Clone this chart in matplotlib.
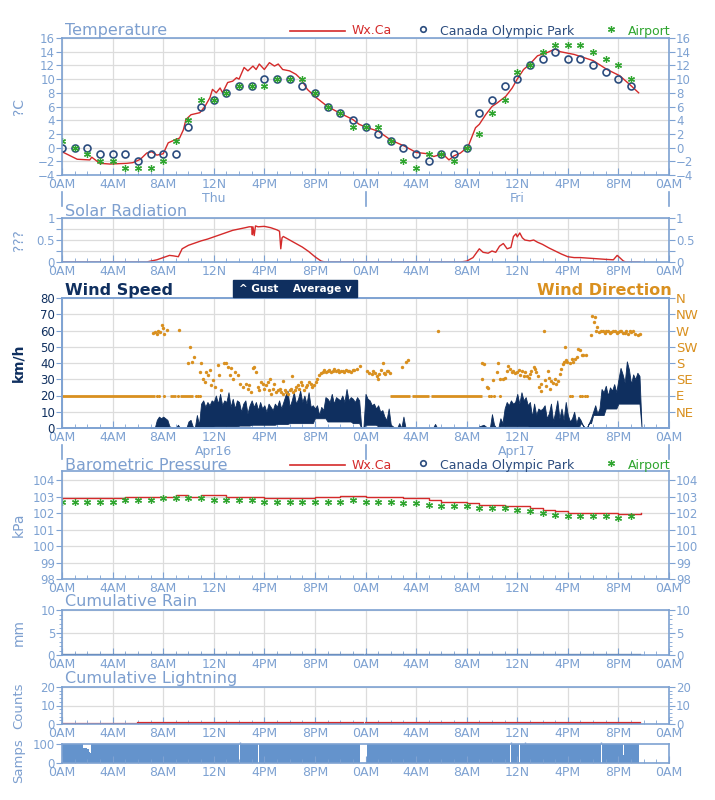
import numpy as np
import matplotlib.pyplot as plt
from matplotlib.patches import Rectangle
from matplotlib.lines import Line2D

W, H = 715, 800

AXC = '#7ea2d2'
TXT = '#7d9fcf'
GRID = '#dcdcdc'
RED = '#d42a2a'
NAVY = '#0f2f5f'
COP = '#2b4c7e'
ORANGE = '#d9901f'
GREEN = '#2fa52f'
SAMP = '#6493cc'

hour_ticks = [0, 4, 8, 12, 16, 20, 24, 28, 32, 36, 40, 44, 48]
hour_labels = ['0AM', '4AM', '8AM', '12N', '4PM', '8PM'] * 2 + ['0AM']

# ---- temperature ----
temp_wx_t = [0, 1.2, 2.2, 2.35, 3, 3.8, 5.1, 5.6, 6.2, 6.7, 7.1, 7.5, 8, 8.4, 8.9, 9.3, 9.6, 9.8,
             10.2, 10.9, 11.3, 11.7, 11.9, 12.2, 12.5, 12.7, 13.1, 13.5, 13.8, 14.0, 14.4, 14.7,
             15.1, 15.35, 15.6, 16, 16.4, 16.8, 17.1, 17.45, 18, 18.5, 18.9, 19.4, 20.1, 21, 21.9,
             23, 23.5, 24, 25, 26, 27.1, 28, 28.9, 29.4, 30.1, 30.6, 31, 31.5, 32.1, 32.7, 33,
             33.5, 34, 34.4, 35.1, 35.6, 36, 36.5, 37, 37.6, 38.4, 39, 39.4, 40.5, 41.5, 42, 43.1,
             44.1, 44.9, 45.6]
temp_wx = [-0.6, -1.7, -1.8, -1.4, -2.3, -2.4, -2.3, -2.2, -1.7, -0.8, -0.6, -1.1, -0.9, 0.7, 1.1,
           1.4, 2.6, 4.1, 4.8, 5.1, 6.0, 7.3, 8.5, 8.0, 8.7, 8.0, 9.5, 9.7, 10.2, 10.0, 11.7, 11.2,
           11.9, 11.4, 12.2, 11.4, 12.4, 11.9, 12.2, 11.4, 11.2, 10.7, 10.0, 8.5, 7.3, 6.0, 5.1,
           4.1, 3.4, 3.0, 2.4, 1.1, 0.2, -0.7, -0.9, -1.3, -0.9, -1.8, -1.2, -0.8, 0.1, 2.9, 3.4,
           4.8, 6.0, 6.5, 7.5, 8.7, 10.0, 11.4, 12.2, 13.4, 13.9, 14.4, 14.0, 13.6, 13.0, 12.7, 11.4,
           10.5, 9.2, 8.0]
temp_hours = list(range(46))
temp_cop = [0, 0, 0, -1, -1, -1, -2, -1, -1, -1, 3, 6, 7, 8, 9, 9, 10, 10, 10, 9, 8, 6, 5, 4,
            3, 2, 1, 0, -1, -2, -1, -1, 0, 5, 7, 9, 10, 12, 13, 14, 13, 13, 12, 11, 10, 9]
temp_air = [1, 0, -1, -2, -2, -3, -3, -3, -2, 1, 4, 7, 7, 8, 9, 9, 9, 10, 10, 10, 8, 6, 5, 3,
            3, 3, 1, -2, -3, -1, -1, -2, 0, 2, 5, 7, 11, 12, 14, 15, 15, 15, 14, 13, 12, 10]

# ---- solar radiation ----
solar_t = [0, 6.7, 7.0, 7.5, 8.0, 8.5, 8.8, 9.2, 9.5, 10.0, 10.5, 11.0, 11.5, 12.0, 12.5, 13.0,
           13.5, 14.0, 14.5, 14.8, 15.0, 15.05, 15.1, 15.2, 15.3, 15.5, 16.0, 16.5, 17.0, 17.2,
           17.3, 17.4, 17.5, 18.0, 18.5, 19.0, 19.5, 20.0, 20.5, 20.8, 31.5, 32.0, 32.5, 33.0,
           33.3, 33.7, 34.0, 34.3, 34.6, 34.9, 35.2, 35.5, 35.7, 35.9, 36.0, 36.2, 36.4, 36.6,
           37.0, 37.3, 37.6, 38.0, 38.5, 39.0, 39.5, 40.0, 40.5, 41.0, 42.0, 43.0, 43.6, 43.9,
           44.1, 44.4, 44.6, 45.7]
solar = [0, 0, 0.02, 0.05, 0.1, 0.15, 0.14, 0.12, 0.3, 0.38, 0.43, 0.48, 0.52, 0.57, 0.62, 0.67,
         0.72, 0.75, 0.78, 0.8, 0.8, 0.62, 0.8, 0.6, 0.82, 0.8, 0.81, 0.78, 0.73, 0.7,
         0.3, 0.55, 0.58, 0.5, 0.42, 0.34, 0.24, 0.12, 0.02, 0, 0, 0.02, 0.1, 0.3,
         0.22, 0.2, 0.25, 0.22, 0.36, 0.42, 0.3, 0.33, 0.58, 0.64, 0.57, 0.66, 0.55, 0.5,
         0.48, 0.5, 0.45, 0.4, 0.32, 0.25, 0.18, 0.12, 0.1, 0.1, 0.08, 0.06, 0.05, 0.15,
         0.1, 0.02, 0, 0]

# ---- wind speed: gusts every 10 min from 7:00, hourly averages ----
gust = [
    0, 0, 0, 5, 7, 6,          # 7h
    7, 6, 5, 1, 0.5, 0,        # 8h
    0, 2, 0, 0, 0, 0,          # 9h
    4, 5, 1, 0, 8, 2,          # 10h
    15, 17, 13, 16, 14, 17,    # 11h
    16, 20, 15, 21, 14, 17,    # 12h
    16, 22, 13, 18, 12, 17,    # 13h
    16, 10, 15, 17, 9, 14,     # 14h
    17, 13, 16, 11, 16, 12,    # 15h
    14, 10, 15, 13, 11, 15,    # 16h
    13, 17, 12, 16, 20, 23,    # 17h
    13, 17, 22, 15, 18, 23,    # 18h
    16, 20, 15, 22, 13, 14,    # 19h
    12, 14, 8, 13, 11, 19,     # 20h
    18, 16, 21, 15, 19, 18,    # 21h
    17, 20, 16, 24, 17, 19,    # 22h
    18, 16, 19, 17, 0, 0,      # 23h
    21, 18, 17, 14, 15, 12,    # 24h
    14, 10, 11, 7, 5, 12,      # 25h
    2, 1, 0, 0, 3, 0,          # 26h
    7, 0, 0, 0, 0, 0,          # 27h
    0, 0, 0, 0, 0, 0,          # 28h
    0, 0, 0, 2.5, 0, 0,        # 29h
    0, 0, 0, 0, 0, 0,          # 30h
    0, 0, 0, 0, 0, 0,          # 31h
    0, 0, 0, 0, 0, 0,          # 32h
    1, 1.5, 2, 1, 0, 0,        # 33h
    8.5, 2, 0, 0, 6, 3,        # 34h
    12, 16, 14, 17, 15, 16,    # 35h
    21, 15, 22, 17, 19, 14,    # 36h
    16, 7, 15, 8, 12, 11,      # 37h
    12, 14, 6, 9, 15, 4,       # 38h
    10, 17, 6, 12, 5, 16,      # 39h
    8, 4, 6, 10, 3, 7,         # 40h
    5, 2, 0, 0, 3, 6,          # 41h
    10, 14, 9, 12, 24, 22,     # 42h
    26, 20, 25, 23, 27, 22,    # 43h
    30, 37, 33, 28, 41, 36,    # 44h
    27, 33, 30, 34, 32, 0,     # 45h
]
avg_hr = [0, 0, 0, 0, 0.5, 1, 1, 1.5, 2, 2, 2.5, 3, 3, 6, 4, 4, 3, 2, 1,
          0, 0, 0, 0, 0, 0, 0, 0, 1, 1, 1, 0.5, 0.5, 0.5, 0, 3, 8, 12, 15, 15]

# ---- wind direction (degrees) ----
dir_t = [7.2, 7.35, 7.5, 7.6, 7.75, 7.9, 8.0, 8.1, 8.3, 9.25,
         10.1, 10.4, 10.3, 10.0, 10.9, 11.0, 11.15, 11.3, 11.4, 11.55, 11.7, 11.8, 11.95, 12.1,
         12.3, 12.45, 12.6, 12.85, 13.0, 13.1, 13.25, 13.4, 13.5, 13.65, 13.9, 14.05, 14.3,
         14.55, 14.7, 14.8, 14.95, 15.1, 15.2, 15.35, 15.5, 15.6, 15.75, 15.9, 16.0, 16.15,
         16.3, 16.4, 16.45, 16.55, 16.7, 16.8, 16.95, 17.05, 17.2, 17.3, 17.45, 17.5, 17.6,
         17.7, 17.85, 18.0, 18.1, 18.2, 18.25, 18.4, 18.5, 18.65, 18.75, 18.9, 19.0, 19.15,
         19.3, 19.4, 19.55, 19.7, 19.8, 19.95, 20.1, 20.2, 20.35, 20.5, 20.6, 20.7, 20.85,
         21.0, 21.1, 21.25, 21.4, 21.5, 21.65, 21.8, 21.9, 22.05, 22.2, 22.3, 22.45, 22.6,
         22.7, 22.85, 23.0, 23.1, 23.3, 23.55,
         24.1, 24.3, 24.5, 24.6, 24.75, 24.9, 25.0, 25.1, 25.2, 25.35, 25.45, 25.55, 25.7,
         25.8, 25.9, 26.85, 27.2, 27.4, 29.7,
         33.2, 33.25, 33.4, 33.6, 33.65, 34.1, 34.4, 34.5, 34.6, 34.9, 35.0, 35.15, 35.3,
         35.4, 35.55, 35.7, 35.8, 35.95, 36.1, 36.2, 36.35, 36.5, 36.6, 36.75, 36.9, 37.0,
         37.1, 37.3, 37.4, 37.5, 37.65, 37.7, 37.85, 37.9, 38.1, 38.2, 38.3, 38.4, 38.5,
         38.6, 38.7, 38.85, 38.95, 39.1, 39.25, 39.4, 39.45, 39.6, 39.7, 39.75, 39.85, 39.95,
         40.15, 40.3, 40.4, 40.55, 40.7, 40.8, 40.95, 41.1, 41.2, 41.4, 41.85, 41.95, 42.05,
         42.15, 42.2, 42.3, 42.5, 42.65, 42.8, 42.9, 43.05, 43.2, 43.35, 43.45, 43.6, 43.7,
         43.85, 43.95, 44.1, 44.2, 44.35, 44.5, 44.6, 44.75, 44.9, 45.0, 45.15, 45.35, 45.55,
         45.7]
dir_deg = [263, 267, 260, 269, 266, 286, 276, 260, 272, 272,
           225, 198, 184, 179, 156, 179, 137, 128, 156, 147, 161, 119, 133, 114,
           175, 147, 105, 179, 179, 170, 147, 165, 137, 156, 147, 123, 114,
           123, 109, 119, 100, 165, 170, 156, 114, 105, 128, 123, 109, 119,
           128, 105, 135, 95, 109, 123, 100, 105, 109, 100, 95, 130, 105,
           100, 95, 105, 109, 144, 100, 105, 114, 119, 109, 128, 119, 105,
           114, 119, 128, 123, 114, 119, 128, 137, 147, 151, 156, 161, 156,
           158, 161, 156, 158, 163, 159, 161, 156, 159, 158, 156, 160, 158,
           159, 156, 160, 162, 164, 173,
           158, 153, 149, 158, 153, 144, 135, 149, 162, 180, 153, 149, 158,
           158, 153, 168, 182, 189, 270,
           135, 180, 176, 114, 110, 133, 154, 180, 136, 136, 139, 159, 173,
           164, 154, 159, 152, 154, 161, 148, 159, 145, 154, 145, 139, 150,
           159, 168, 164, 154, 145, 113, 103, 122, 270, 133, 117, 159, 139,
           108, 131, 126, 136, 122, 129, 150, 164, 178, 182, 224, 187, 182,
           180, 192, 182, 192, 196, 220, 215, 203, 203, 203, 257, 310, 294,
           308, 270, 280, 266, 270, 268, 264, 270, 268, 263, 266, 270, 268,
           264, 266, 270, 268, 262, 264, 269, 261, 268, 266, 270, 261, 257,
           259]
east_segments = [(0.0, 7.35), (8.55, 9.05), (9.3, 10.35), (25.9, 27.5), (27.65, 29.0), (29.15, 33.2)]
east_dots = [7.55, 7.7, 8.1, 9.15, 10.6, 10.75, 10.95, 33.8, 33.95, 34.2, 34.65,
             40.2, 40.35, 40.95, 41.15, 41.35, 41.55]
compass = ['NE', 'E', 'SE', 'S', 'SW', 'W', 'NW', 'N']

# ---- pressure ----
pres_wx_t = list(range(46)) + [45.75]
pres_wx = [102.9, 102.9, 102.9, 102.9, 102.9, 103.0, 103.0, 103.0, 103.0, 103.1, 103.0, 103.1,
           103.1, 103.0, 103.0, 103.0, 102.9, 102.9, 102.9, 102.9, 102.95, 103.0, 103.05, 103.05,
           103.0, 103.0, 103.0, 102.9, 102.9, 102.8, 102.7, 102.7, 102.6, 102.5, 102.5, 102.4,
           102.4, 102.3, 102.2, 102.1, 102.0, 102.0, 102.0, 102.0, 101.95, 101.95, 102.0]
pres_air = [102.7, 102.7, 102.7, 102.7, 102.7, 102.8, 102.8, 102.8, 102.9, 102.9, 102.9, 102.9,
            102.8, 102.8, 102.8, 102.8, 102.7, 102.7, 102.7, 102.7, 102.7, 102.7, 102.7, 102.8,
            102.7, 102.7, 102.7, 102.6, 102.6, 102.5, 102.4, 102.4, 102.4, 102.3, 102.3, 102.3,
            102.2, 102.1, 102.0, 101.9, 101.8, 101.8, 101.8, 101.8, 101.7, 101.8]

# ---- rain / lightning / samples ----
rain_segments = [(0.0, 23.8, 0.0), (24.05, 45.7, 0.0)]
light_segments = [(0.0, 6.0, 0.0), (6.0, 23.8, 0.7), (24.05, 36.0, 0.7), (36.1, 45.7, 0.7)]
samp_t = [0, 1.65, 2.0, 2.1, 2.25, 2.32, 14.0, 14.07, 15.5, 15.55, 19.2, 19.25, 23.6, 24.15,
          35.45, 35.52, 36.15, 36.22, 36.5, 36.56, 42.65, 42.7, 44.35, 44.42, 45.65, 48]
samp_v = [100, 80, 75, 60, 50, 100, 0, 100, 0, 100, 0, 100, 0, 100,
          0, 100, 0, 100, 0, 100, 0, 100, 40, 100, 0, 0]
samp_spikes = [14.05, 35.5, 36.6, 42.6]


fig = plt.figure(figsize=(W / 100, H / 100), dpi=100)


def add_ax(top, bottom, left=62, right=669):
    return fig.add_axes([left / W, 1 - bottom / H, (right - left) / W, (bottom - top) / H])


def ftext(x, y, s, **kw):
    return fig.text(x / W, 1 - y / H, s, **kw)


def fline(x0, y0, x1, y1, **kw):
    fig.add_artist(Line2D([x0 / W, x1 / W], [1 - y0 / H, 1 - y1 / H], transform=fig.transFigure, **kw))


def style(ax, ylim, yticks, ylabels=None, yminor=None, right=True, grid=True, ycolor=AXC):
    ax.set_xlim(0, 48)
    ax.set_ylim(*ylim)
    ax.set_xticks(hour_ticks)
    ax.set_xticklabels(hour_labels)
    ax.set_xticks(range(49), minor=True)
    ax.set_yticks(yticks)
    if ylabels is not None:
        ax.set_yticklabels(ylabels)
    if yminor is not None:
        ax.set_yticks(yminor, minor=True)
    for sp in ax.spines.values():
        sp.set_color(AXC)
        sp.set_linewidth(1.2)
    ax.tick_params(axis='x', which='both', direction='in', colors=AXC, labelsize=9, pad=2.5)
    ax.tick_params(axis='x', which='major', length=5)
    ax.tick_params(axis='x', which='minor', length=3)
    ax.tick_params(axis='y', which='both', direction='out', color=AXC, labelcolor=ycolor,
                   labelsize=8.5, pad=1, length=4, right=right, labelright=right)
    ax.tick_params(axis='y', which='minor', length=2)
    if grid:
        ax.grid(True, which='major', color=GRID, lw=0.9)
        ax.set_axisbelow(True)


def legend_row(y):
    fline(290, y, 345, y, color=RED, lw=1.2)
    ftext(352, y, 'Wx.Ca', color=RED, fontsize=9, va='center')
    fig.add_artist(Line2D([423 / W], [1 - (y - 2) / H], marker='o', ms=4, mfc='none', mec=COP,
                          mew=1.2, transform=fig.transFigure))
    ftext(440, y, 'Canada Olympic Park', color=COP, fontsize=9, va='center')
    fig.add_artist(Line2D([611 / W], [1 - (y - 2) / H], marker=(6, 2, 0), ms=5, color=GREEN,
                          mew=0.9, transform=fig.transFigure))
    ftext(628, y, 'Airport', color=GREEN, fontsize=9, va='center')


# ---------- Temperature ----------
ax = add_ax(38, 175)
style(ax, (-4, 16), range(-4, 17, 2))
ax.plot(temp_wx_t, temp_wx, color=RED, lw=1.0)
ax.plot(temp_hours, temp_cop, 'o', ms=5, mfc='none', mec=COP, mew=1.2)
ax.plot(temp_hours, temp_air, ls='none', marker=(6, 2, 0), ms=5, color=GREEN, mew=0.9)
ax.set_ylabel('?C', color=TXT, fontsize=10)
ax.yaxis.set_label_coords(-0.06, 0.5)
ftext(65, 31, 'Temperature', color=TXT, fontsize=11.5, va='center')
legend_row(31)
ftext(214, 199, 'Thu', color=AXC, fontsize=9, ha='center', va='center')
ftext(517, 199, 'Fri', color=AXC, fontsize=9, ha='center', va='center')
for x in (62, 366, 669):
    fline(x, 192, x, 206, color=AXC, lw=1.2)

# ---------- Solar radiation ----------
ax = add_ax(218, 262)
style(ax, (0, 1), [0, 0.25, 0.5, 0.75, 1], ['0', '', '0.5', '', '1'])
ax.plot(solar_t, solar, color=RED, lw=1.0)
ax.set_ylabel('???', color=TXT, fontsize=10)
ax.yaxis.set_label_coords(-0.06, 0.5)
ftext(65, 211, 'Solar Radiation', color=TXT, fontsize=11.5, va='center')

# ---------- Wind ----------
ax = add_ax(298, 428)
style(ax, (0, 80), range(0, 81, 10), right=False, ycolor=NAVY)
t_w = 7 + np.arange(len(gust)) / 6
g_w = np.array(gust, dtype=float)
a_w = np.minimum(np.repeat(avg_hr, 6)[:len(g_w)], g_w)
ax.fill_between(t_w, a_w, g_w, color=NAVY, lw=0.6, edgecolor=NAVY)
ax.set_ylabel('km/h', color=NAVY, fontsize=10, fontweight='bold')
ax.yaxis.set_label_coords(-0.06, 0.5)
axd = ax.twinx()
axd.set_ylim(0, 360)
axd.set_yticks([45, 90, 135, 180, 225, 270, 315, 360])
axd.set_yticklabels(compass)
axd.tick_params(axis='y', direction='out', color=AXC, labelcolor=ORANGE, labelsize=9.5, pad=1, length=4)
for sp in axd.spines.values():
    sp.set_color(AXC)
    sp.set_linewidth(1.2)
for s, e in east_segments:
    axd.hlines(90, s, e, color=ORANGE, lw=2.0)
axd.scatter(east_dots, [90] * len(east_dots), s=5, color=ORANGE, lw=0)
axd.scatter(dir_t, dir_deg, s=6, color=ORANGE, lw=0)
ftext(65, 290, 'Wind Speed', color=NAVY, fontsize=11.5, fontweight='bold', va='center')
ftext(672, 290, 'Wind Direction', color=ORANGE, fontsize=11.5, fontweight='bold', va='center', ha='right')
fig.add_artist(Rectangle((233 / W, 1 - 297 / H), 124 / W, 17 / H, color=NAVY, transform=fig.transFigure))
ftext(295, 289, '^ Gust    Average v', color='white', fontsize=7.5, fontweight='bold', ha='center', va='center')
ftext(214, 452, 'Apr16', color=AXC, fontsize=9, ha='center', va='center')
ftext(517, 452, 'Apr17', color=AXC, fontsize=9, ha='center', va='center')
for x in (62, 366, 669):
    fline(x, 445, x, 459, color=AXC, lw=1.2)

# ---------- Pressure ----------
ax = add_ax(471, 579)
style(ax, (98, 104.55), range(98, 105))
ax.step(pres_wx_t, pres_wx, where='post', color=RED, lw=1.0)
ax.plot(range(len(pres_air)), pres_air, ls='none', marker=(6, 2, 0), ms=5, color=GREEN, mew=0.9)
ax.set_ylabel('kPa', color=TXT, fontsize=10)
ax.yaxis.set_label_coords(-0.06, 0.5)
ftext(65, 465, 'Barometric Pressure', color=TXT, fontsize=11.5, va='center')
legend_row(465)

# ---------- Rain ----------
ax = add_ax(610, 655)
style(ax, (0, 10), [0, 5, 10], yminor=range(11))
for s, e, v in rain_segments:
    ax.plot([s, e], [v, v], color=NAVY, lw=1.6)
ax.set_ylabel('mm', color=TXT, fontsize=10)
ax.yaxis.set_label_coords(-0.06, 0.5)
ftext(65, 602, 'Cumulative Rain', color=TXT, fontsize=11.5, va='center')

# ---------- Lightning ----------
ax = add_ax(687, 724)
style(ax, (0, 20), [0, 10, 20], yminor=range(0, 21, 2))
for s, e, v in light_segments:
    ax.plot([s, e], [v, v], color=RED, lw=1.6)
ax.set_ylabel('Counts', color=TXT, fontsize=9.5)
ax.yaxis.set_label_coords(-0.06, 0.5)
ftext(65, 678, 'Cumulative Lightning', color=TXT, fontsize=11.5, va='center')

# ---------- Samples ----------
ax = add_ax(744, 763)
style(ax, (0, 100), [0, 100], right=False, grid=False)
ax.fill_between(samp_t, 0, samp_v, step='post', color=SAMP, lw=0)
ax.vlines(samp_spikes, 100, 112, color=AXC, lw=1.0, clip_on=False)
ax.set_ylabel('Samps', color=TXT, fontsize=9.5)
ax.yaxis.set_label_coords(-0.06, 0.1)

fig.savefig('out.png', dpi=100)
